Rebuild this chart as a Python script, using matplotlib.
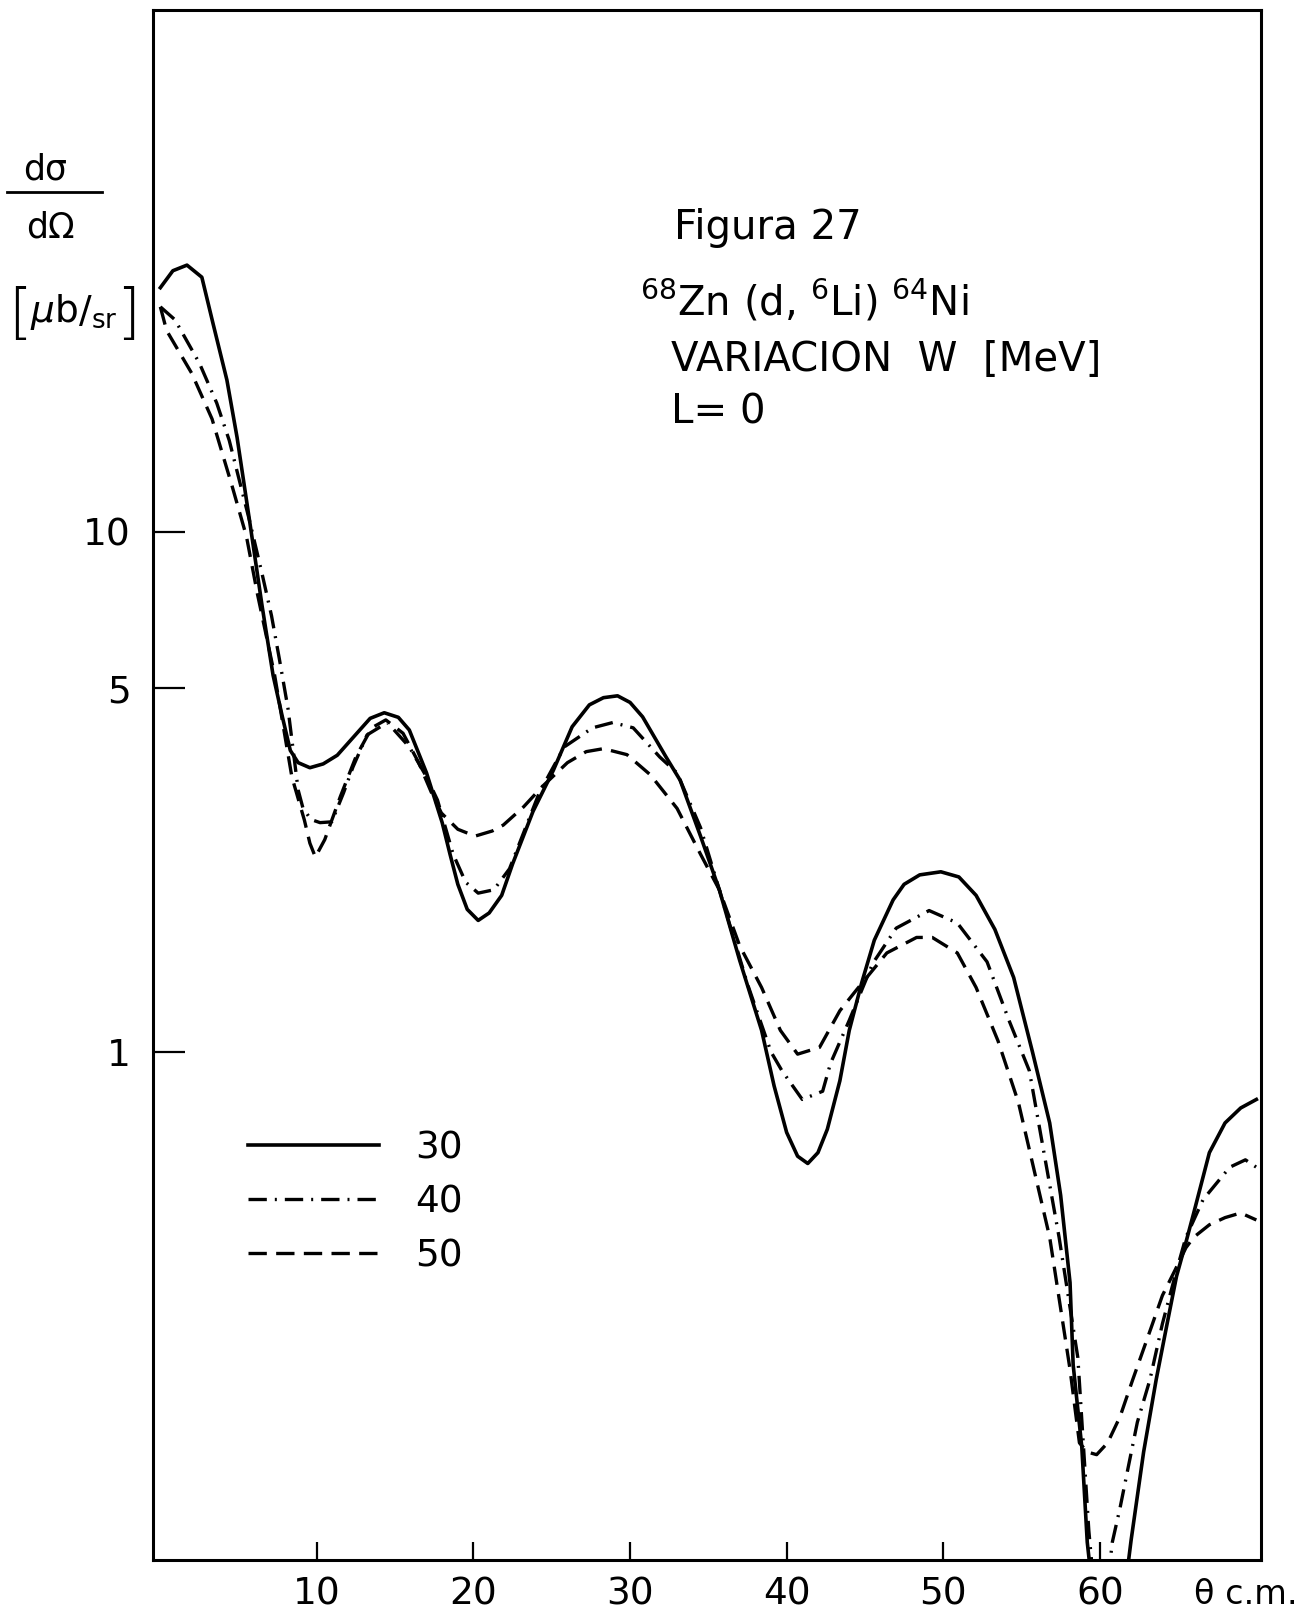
import numpy as np
import matplotlib
matplotlib.use('Agg')
import matplotlib.pyplot as plt
from matplotlib.lines import Line2D
from matplotlib.ticker import NullLocator

# angle (deg, c.m.) and cross section (mub/sr)
theta_30 = [0.0, 0.8, 1.7, 2.65, 3.36, 4.25, 4.9, 5.7, 6.5, 7.2, 7.8, 8.3, 8.8, 9.55, 10.4,
            11.3, 12.55, 13.4, 14.3, 15.2, 15.9, 17.0, 18.0, 18.5, 19.0, 19.6, 20.3, 21.0,
            21.8, 22.5, 23.8, 25.1, 26.3, 27.4, 28.3, 29.2, 30.0, 30.8, 32.3, 33.2, 34.5,
            35.7, 37.0, 38.4, 39.2, 40.0, 40.7, 41.35, 42.0, 42.6, 43.4, 44.0, 44.8, 45.6,
            46.8, 47.5, 48.5, 49.85, 51.0, 52.1, 53.3, 54.5, 55.7, 56.8, 57.5, 58.1, 58.3,
            58.85, 59.2, 60.5, 62.0, 62.8, 63.6, 64.3, 64.9, 65.5, 66.0, 67.0, 68.0, 69.0, 70.0]
sigma_30 = [29.5, 31.8, 32.6, 30.9, 25.2, 19.6, 15.2, 10.5, 7.2, 5.3, 4.4, 3.8, 3.6, 3.52, 3.58,
            3.72, 4.1, 4.38, 4.49, 4.4, 4.16, 3.44, 2.76, 2.4, 2.1, 1.88, 1.79, 1.85,
            2.0, 2.3, 2.9, 3.48, 4.22, 4.65, 4.8, 4.84, 4.7, 4.41, 3.69, 3.33, 2.6,
            2.05, 1.5, 1.1, 0.86, 0.70, 0.63, 0.61, 0.64, 0.71, 0.88, 1.1, 1.36, 1.64,
            1.96, 2.1, 2.19, 2.22, 2.17, 2.0, 1.72, 1.39, 1.0, 0.73, 0.53, 0.36, 0.25,
            0.174, 0.114, 0.05, 0.115, 0.17, 0.234, 0.30, 0.37, 0.43, 0.49, 0.64, 0.73, 0.78, 0.81]

theta_40 = [0.0, 0.93, 2.5, 3.6, 4.4, 5.7, 6.5, 7.1, 7.6, 8.15, 8.8, 9.1, 9.6, 10.2, 10.95,
            11.7, 12.3, 13.2, 14.5, 15.9, 17.0, 17.7, 18.7, 19.5, 20.3, 21.3, 22.3, 24.2,
            25.8, 27.6, 28.9, 30.2, 31.9, 33.0, 34.5, 35.7, 37.5, 39.0, 39.7, 41.0, 42.3,
            42.8, 44.0, 45.5, 47.0, 49.1, 50.9, 52.8, 54.2, 55.5, 57.4, 58.6, 59.3, 60.0,
            60.8, 61.3, 61.8, 62.4, 63.2, 64.0, 64.8, 65.5, 66.6, 68.3, 69.3, 70.0]
sigma_40 = [27.1, 25.6, 21.1, 17.7, 15.0, 10.5, 8.3, 6.9, 5.7, 4.58, 3.19, 2.95, 2.8, 2.76, 2.77,
            3.15, 3.53, 4.07, 4.3, 3.86, 3.38, 3.05, 2.4, 2.12, 2.02, 2.05, 2.25, 3.15,
            3.86, 4.2, 4.3, 4.2, 3.69, 3.44, 2.7, 2.05, 1.35, 1.0, 0.92, 0.81, 0.84,
            0.95, 1.15, 1.48, 1.73, 1.87, 1.77, 1.49, 1.15, 0.92, 0.44, 0.258, 0.12, 0.07,
            0.114, 0.133, 0.158, 0.194, 0.234, 0.30, 0.37, 0.44, 0.52, 0.60, 0.62, 0.60]

theta_50 = [0.0, 0.4, 2.0, 3.3, 4.6, 5.5, 6.2, 7.3, 8.4, 9.2, 9.55, 9.9, 10.5, 11.5, 12.5,
            13.5, 14.4, 15.5, 16.5, 17.3, 17.95, 19.0, 20.1, 21.2, 21.9, 23.2, 24.4, 26.0,
            27.2, 28.3, 29.8, 31.3, 33.0, 34.5, 35.7, 37.0, 38.4, 39.6, 40.7, 42.1, 43.4,
            44.5, 46.4, 48.3, 49.3, 50.9, 52.1, 53.5, 54.8, 56.8, 58.1, 58.7, 59.2, 59.8,
            60.5, 61.3, 62.1, 63.3, 64.0, 64.8, 65.5, 66.0, 67.0, 68.0, 69.0, 70.0]
sigma_50 = [27.1, 24.4, 20.2, 16.5, 12.2, 9.8, 7.6, 5.3, 3.38, 2.79, 2.52, 2.37, 2.56, 3.1, 3.7,
            4.2, 4.35, 4.1, 3.6, 3.16, 2.88, 2.68, 2.6, 2.66, 2.73, 2.96, 3.24, 3.6,
            3.78, 3.83, 3.73, 3.41, 2.94, 2.4, 2.05, 1.6, 1.33, 1.1, 0.99, 1.02, 1.2,
            1.32, 1.55, 1.66, 1.66, 1.55, 1.33, 1.05, 0.8, 0.44, 0.245, 0.177, 0.17, 0.168,
            0.177, 0.199, 0.234, 0.296, 0.34, 0.38, 0.42, 0.44, 0.465, 0.48, 0.49, 0.475]

W_labels = ['30', '40', '50']
x_ticks = [10, 20, 30, 40, 50, 60]
y_ticks = [1, 5, 10]

plt.rcParams['font.family'] = ['DejaVu Sans']
plt.rcParams['mathtext.fontset'] = 'dejavusans'

fig = plt.figure(figsize=(13.11, 16.14), dpi=100)
ax = fig.add_axes([0.1167, 0.0335, 0.8452, 0.9603])

ax.plot(theta_30, sigma_30, color='black', lw=2.6, ls='-', label=W_labels[0])
ax.plot(theta_40, sigma_40, color='black', lw=2.4, ls=(0, (5.5, 2.4, 0.6, 2.4)), label=W_labels[1])
ax.plot(theta_50, sigma_50, color='black', lw=2.4, ls=(0, (5.5, 2.8)), label=W_labels[2])

ax.set_yscale('log')
ax.set_xlim(-0.47, 70.3)
ax.set_ylim(0.1054, 100.9)
ax.set_xticks(x_ticks)
ax.set_xticklabels([str(t) for t in x_ticks])
ax.set_yticks(y_ticks)
ax.set_yticklabels([str(t) for t in y_ticks])
ax.yaxis.set_minor_locator(NullLocator())
ax.xaxis.set_minor_locator(NullLocator())
ax.tick_params(axis='x', direction='in', length=13, width=1.6, labelsize=27, pad=12)
ax.tick_params(axis='y', direction='in', length=23, width=1.6, labelsize=27, pad=16)
for sp in ax.spines.values():
    sp.set_linewidth(2.2)

leg = ax.legend(loc='upper left', bbox_to_anchor=(0.1892, 0.2995), bbox_transform=fig.transFigure,
                frameon=False, fontsize=27, handlelength=3.5, handletextpad=0.95,
                labelspacing=0.48, borderpad=0, borderaxespad=0)

# title block
fig.text(674 / 1311, 1 - 228 / 1614, 'Figura 27', fontsize=29, va='center', ha='left')
fig.text(640 / 1311, 1 - 301 / 1614, r'$^{68}$Zn (d, $^{6}$Li) $^{64}$Ni', fontsize=29,
         va='center', ha='left')
fig.text(671 / 1311, 1 - 360 / 1614, 'VARIACION  W  [MeV]', fontsize=29, va='center', ha='left')
fig.text(671 / 1311, 1 - 412 / 1614, 'L= 0', fontsize=29, va='center', ha='left')

# y label as a fraction
fig.text(45 / 1311, 1 - 170 / 1614, 'dσ', fontsize=25, va='center', ha='center')
fig.add_artist(Line2D([7 / 1311, 102 / 1311], [1 - 192 / 1614, 1 - 192 / 1614],
                      color='black', lw=2.0, transform=fig.transFigure))
fig.text(50 / 1311, 1 - 227 / 1614, 'dΩ', fontsize=25, va='center', ha='center')
fig.text(20 / 1311, 1 - 315 / 1614, '[', fontsize=44, va='center', ha='center', fontweight='light')
fig.text(74 / 1311, 1 - 312 / 1614, r'$\mu\mathrm{b}/_{\mathrm{sr}}$', fontsize=27,
         va='center', ha='center')
fig.text(128 / 1311, 1 - 315 / 1614, ']', fontsize=44, va='center', ha='center', fontweight='light')

# x label
fig.text(1194 / 1311, 1 - 1595 / 1614, 'θ c.m.', fontsize=24, va='center', ha='left')

fig.savefig('out.png', dpi=100)
